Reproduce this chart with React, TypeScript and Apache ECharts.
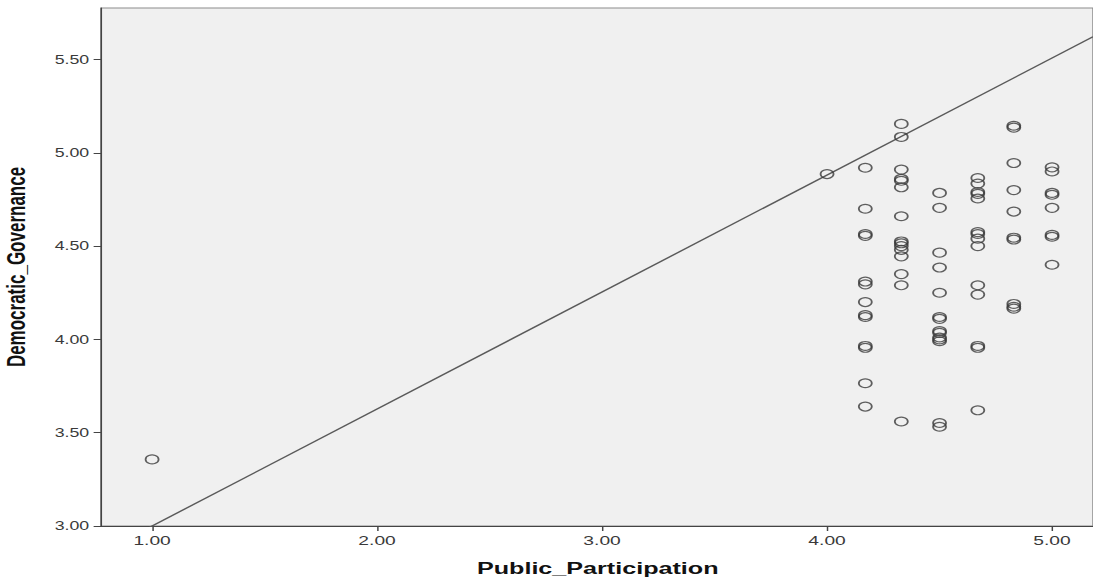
import React, { useEffect, useRef } from "react";
import * as echarts from "echarts";

// ---- data (Democratic_Governance values per Public_Participation column) ----
const X_COLUMNS = [1.0, 4.0, 4.17, 4.33, 4.5, 4.67, 4.83, 5.0];
const dgAt100 = [3.357];
const dgAt400 = [4.886];
const dgAt417 = [4.92, 4.7, 4.555, 4.565, 4.31, 4.295, 4.2, 4.12, 4.13, 3.955, 3.965, 3.765, 3.64];
const dgAt433 = [5.155, 5.085, 4.91, 4.85, 4.86, 4.815, 4.66, 4.525, 4.515, 4.5, 4.48, 4.445, 4.35, 4.29, 3.56];
const dgAt450 = [4.785, 4.705, 4.465, 4.385, 4.25, 4.11, 4.12, 4.045, 4.035, 4.01, 4.0, 3.99, 3.552, 3.532];
const dgAt467 = [4.865, 4.835, 4.78, 4.79, 4.755, 4.565, 4.575, 4.54, 4.5, 4.29, 4.24, 3.955, 3.965, 3.62];
const dgAt483 = [5.135, 5.145, 4.945, 4.8, 4.685, 4.535, 4.545, 4.19, 4.175, 4.165];
const dgAt500 = [4.922, 4.9, 4.775, 4.785, 4.705, 4.55, 4.56, 4.4];
const COLUMN_VALUES = [dgAt100, dgAt400, dgAt417, dgAt433, dgAt450, dgAt467, dgAt483, dgAt500];

const X_TICKS = [1, 2, 3, 4, 5];
const Y_TICKS = [3.0, 3.5, 4.0, 4.5, 5.0, 5.5];

// fit line
const FIT_INTERCEPT = 2.373;
const FIT_SLOPE = 0.627;

const X_MIN = 0.773;
const X_MAX = 5.182;
const Y_MIN = 3.0;
const Y_MAX = 5.776;

const X_NAME = "Public_Participation";
const Y_NAME = "Democratic_Governance";

// the reference is stretched horizontally
const OUT_W = 1093;
const IN_W = 739;
const H = 586;
const STRETCH = OUT_W / IN_W;

export default function App() {
  const ref = useRef<HTMLDivElement>(null);

  useEffect(() => {
    document.body.style.margin = "0";
    if (!ref.current) return;
    const chart = echarts.init(ref.current, undefined, { renderer: "svg" });

    const points: number[][] = [];
    X_COLUMNS.forEach((x, i) => {
      COLUMN_VALUES[i].forEach((y) => points.push([x, y]));
    });

    const fitData = [
      [X_MIN, FIT_INTERCEPT + FIT_SLOPE * X_MIN],
      [X_MAX, FIT_INTERCEPT + FIT_SLOPE * X_MAX],
    ];

    const gridLeft = 68.3;
    const gridTop = 8;
    const gridBottom = 60;
    const plotW = IN_W - gridLeft + 1;
    const fontFamily = "'Liberation Sans', Arial, sans-serif";

    chart.setOption({
      animation: false,
      backgroundColor: "#ffffff",
      grid: {
        left: gridLeft,
        right: -1,
        top: gridTop,
        bottom: gridBottom,
        show: true,
        backgroundColor: "#f0f0f0",
        borderColor: "#8c8c8c",
        borderWidth: 1,
      },
      xAxis: {
        type: "value",
        min: X_MIN,
        max: X_MAX,
        axisLine: { show: true, onZero: false, lineStyle: { color: "#444444", width: 1 } },
        axisTick: { show: true, customValues: X_TICKS, length: 5, lineStyle: { color: "#444444" } },
        axisLabel: {
          show: true,
          customValues: X_TICKS,
          margin: 8,
          fontSize: 13,
          fontFamily,
          color: "#3a3a3a",
          formatter: (v: number) => v.toFixed(2),
        },
        splitLine: { show: false },
      },
      yAxis: {
        type: "value",
        min: Y_MIN,
        max: Y_MAX,
        axisLine: { show: true, onZero: false, lineStyle: { color: "#444444", width: 1 } },
        axisTick: { show: true, customValues: Y_TICKS, length: 5, lineStyle: { color: "#444444" } },
        axisLabel: {
          show: true,
          customValues: Y_TICKS,
          margin: 8,
          fontSize: 12,
          fontFamily,
          color: "#3a3a3a",
          formatter: (v: number) => v.toFixed(2),
        },
        splitLine: { show: false },
      },
      graphic: [
        {
          type: "text",
          x: gridLeft + plotW / 2,
          y: 568,
          style: {
            text: X_NAME,
            fontSize: 17,
            fontWeight: "bold",
            fontFamily,
            fill: "#111111",
            textAlign: "center",
            textVerticalAlign: "middle",
          },
        },
        {
          type: "text",
          x: 11.5,
          y: (gridTop + (H - gridBottom)) / 2,
          rotation: Math.PI / 2,
          style: {
            text: Y_NAME,
            fontSize: 17,
            fontWeight: "bold",
            fontFamily,
            fill: "#111111",
            textAlign: "center",
            textVerticalAlign: "middle",
          },
        },
      ],
      series: [
        {
          type: "line",
          data: fitData,
          clip: true,
          showSymbol: false,
          symbol: "none",
          lineStyle: { color: "#5a5a5a", width: 1.3 },
          silent: true,
          z: 2,
        },
        {
          type: "scatter",
          data: points,
          symbol: "circle",
          symbolSize: 8.8,
          itemStyle: { color: "rgba(0,0,0,0)", borderColor: "#3a3a3a", borderWidth: 1.2 },
          silent: true,
          z: 3,
        },
      ],
    });

    return () => chart.dispose();
  }, []);

  return (
    <div style={{ width: OUT_W, height: H, overflow: "hidden", position: "relative" }}>
      <div
        ref={ref}
        style={{
          width: IN_W,
          height: H,
          transform: `scaleX(${STRETCH})`,
          transformOrigin: "0 0",
        }}
      />
    </div>
  );
}
